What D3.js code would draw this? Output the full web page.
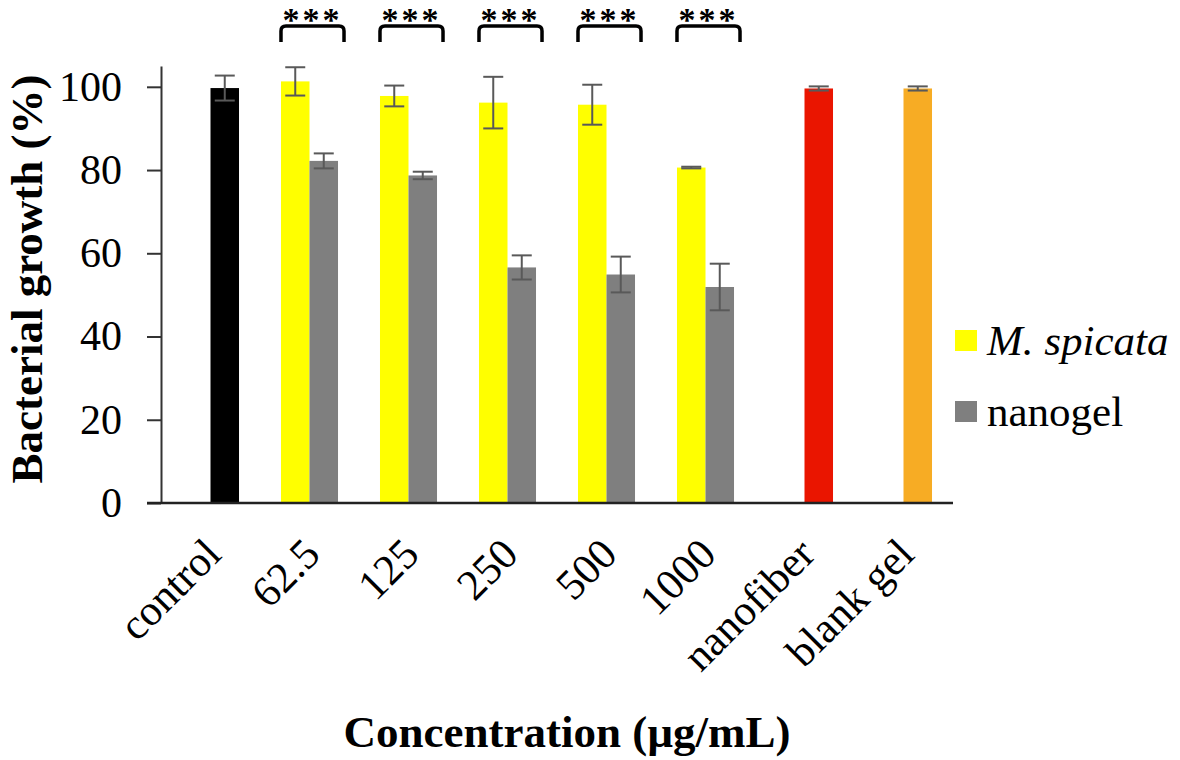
<!DOCTYPE html>
<html>
<head>
<meta charset="utf-8">
<script src="https://cdn.jsdelivr.net/npm/d3@7"></script>
<style>
  html, body { margin: 0; padding: 0; background: #fff; }
  svg { display: block; }
  text { font-family: "Liberation Serif", "Times New Roman", serif; fill: #000; }
</style>
</head>
<body>
<svg id="chart" width="1180" height="760"></svg>
<script>
// ---- data ----
const categories = ["control", "62.5", "125", "250", "500", "1000", "nanofiber", "blank gel"];
const seriesNames = ["M. spicata", "nanogel"];
const spicataValues = [null, 101.3, 97.8, 96.2, 95.7, 80.6, null, null];
const spicataErrors = [null, 3.4, 2.5, 6.2, 4.8, 0.2, null, null];
const nanogelValues = [null, 82.2, 78.7, 56.6, 54.9, 51.9, null, null];
const nanogelErrors = [null, 1.8, 0.9, 2.9, 4.3, 5.6, null, null];
const referenceValues = [99.7, null, null, null, null, null, 99.6, 99.6];
const referenceErrors = [3.0, null, null, null, null, null, 0.5, 0.5];
const significance = [null, "***", "***", "***", "***", "***", null, null];
const yTicks = [0, 20, 40, 60, 80, 100];

// ---- styles ----
const seriesColors = { "M. spicata": "#FFFF00", "nanogel": "#7F7F7F" };
const referenceColors = ["#000000", null, null, null, null, null, "#EA1500", "#F7AC24"];
const errColor = "#595959";

const svg = d3.select("#chart");
const mLeft = 161, mRight = 953, mTop = 66, mBottom = 503;

const x0 = d3.scaleBand().domain(categories).range([mLeft, mRight]).paddingInner(0.424).paddingOuter(0.212);
const x1 = d3.scaleBand().domain(seriesNames).range([0, x0.bandwidth()]);
const y = d3.scaleLinear().domain([0, 105]).range([mBottom, mTop]);

// bars
const bars = [];
categories.forEach((c, i) => {
  if (spicataValues[i] != null) bars.push({ c, x: x0(c) + x1("M. spicata"), v: spicataValues[i], e: spicataErrors[i], col: seriesColors["M. spicata"] });
  if (nanogelValues[i] != null) bars.push({ c, x: x0(c) + x1("nanogel"), v: nanogelValues[i], e: nanogelErrors[i], col: seriesColors["nanogel"] });
  if (referenceValues[i] != null) bars.push({ c, x: x0(c) + x1("nanogel"), v: referenceValues[i], e: referenceErrors[i], col: referenceColors[i] });
});
const bw = x1.bandwidth();

svg.append("g").selectAll("rect").data(bars).join("rect")
  .attr("x", d => d.x).attr("width", bw)
  .attr("y", d => y(d.v)).attr("height", d => y(0) - y(d.v))
  .attr("fill", d => d.col);

// error bars
const eg = svg.append("g").attr("stroke", errColor).attr("stroke-width", 2).attr("fill", "none");
bars.forEach(d => {
  const cx = d.x + bw / 2;
  const capW = 10;
  eg.append("line").attr("x1", cx).attr("x2", cx).attr("y1", y(d.v + d.e)).attr("y2", y(d.v - d.e));
  eg.append("line").attr("x1", cx - capW).attr("x2", cx + capW).attr("y1", y(d.v + d.e)).attr("y2", y(d.v + d.e));
  eg.append("line").attr("x1", cx - capW).attr("x2", cx + capW).attr("y1", y(d.v - d.e)).attr("y2", y(d.v - d.e));
});

// y axis
const yAxis = d3.axisLeft(y).tickValues(yTicks).tickSize(14).tickPadding(25).tickSizeOuter(0);
const ya = svg.append("g").attr("transform", `translate(${mLeft},0)`).call(yAxis);
ya.select(".domain").attr("stroke", "#333").attr("stroke-width", 2);
ya.selectAll(".tick line").attr("stroke", "#333").attr("stroke-width", 2);
ya.selectAll(".tick text").attr("font-size", 42).attr("font-family", "Liberation Serif").attr("fill", "#000");

// x axis line
svg.append("line").attr("x1", mLeft - 14).attr("x2", mRight).attr("y1", mBottom).attr("y2", mBottom)
  .attr("stroke", "#222").attr("stroke-width", 2.5);

// x tick labels
svg.append("g").selectAll("text").data(categories).join("text")
  .attr("transform", d => `translate(${x0(d) + x0.bandwidth() / 2 + 2},546) rotate(-45)`)
  .attr("text-anchor", "end").attr("dy", "0.35em")
  .attr("font-size", 43)
  .text(d => d);

// significance brackets
const sg = svg.append("g");
categories.forEach((c, i) => {
  if (!significance[i]) return;
  const xl = x0(c), xr = x0(c) + x0.bandwidth() + 6, yt = 26, yb = 42, r = 5;
  sg.append("path")
    .attr("d", `M${xl},${yb} L${xl},${yt + r} Q${xl},${yt} ${xl + r},${yt} L${xr - r},${yt} Q${xr},${yt} ${xr},${yt + r} L${xr},${yb}`)
    .attr("fill", "none").attr("stroke", "#000").attr("stroke-width", 3.5);
  sg.append("text").attr("x", (xl + xr) / 2).attr("y", 31)
    .attr("text-anchor", "middle").attr("font-size", 34).attr("font-weight", "bold")
    .attr("letter-spacing", "3px")
    .text(significance[i]);
});

// axis titles
svg.append("text").attr("transform", "translate(42,279) rotate(-90)")
  .attr("text-anchor", "middle").attr("font-size", 45).attr("font-weight", "bold")
  .text("Bacterial growth (%)");
svg.append("text").attr("x", 567).attr("y", 747)
  .attr("text-anchor", "middle").attr("font-size", 45).attr("font-weight", "bold")
  .text("Concentration (µg/mL)");

// legend
const lg = svg.append("g");
seriesNames.forEach((s, i) => {
  const cy = 341 + i * 71;
  lg.append("rect").attr("x", 955).attr("y", cy - 11).attr("width", 22).attr("height", 21).attr("fill", seriesColors[s]);
  lg.append("text").attr("x", 987).attr("y", cy).attr("dy", "0.32em")
    .attr("font-size", 43).attr("font-style", i === 0 ? "italic" : "normal")
    .text(s);
});
</script>
</body>
</html>
